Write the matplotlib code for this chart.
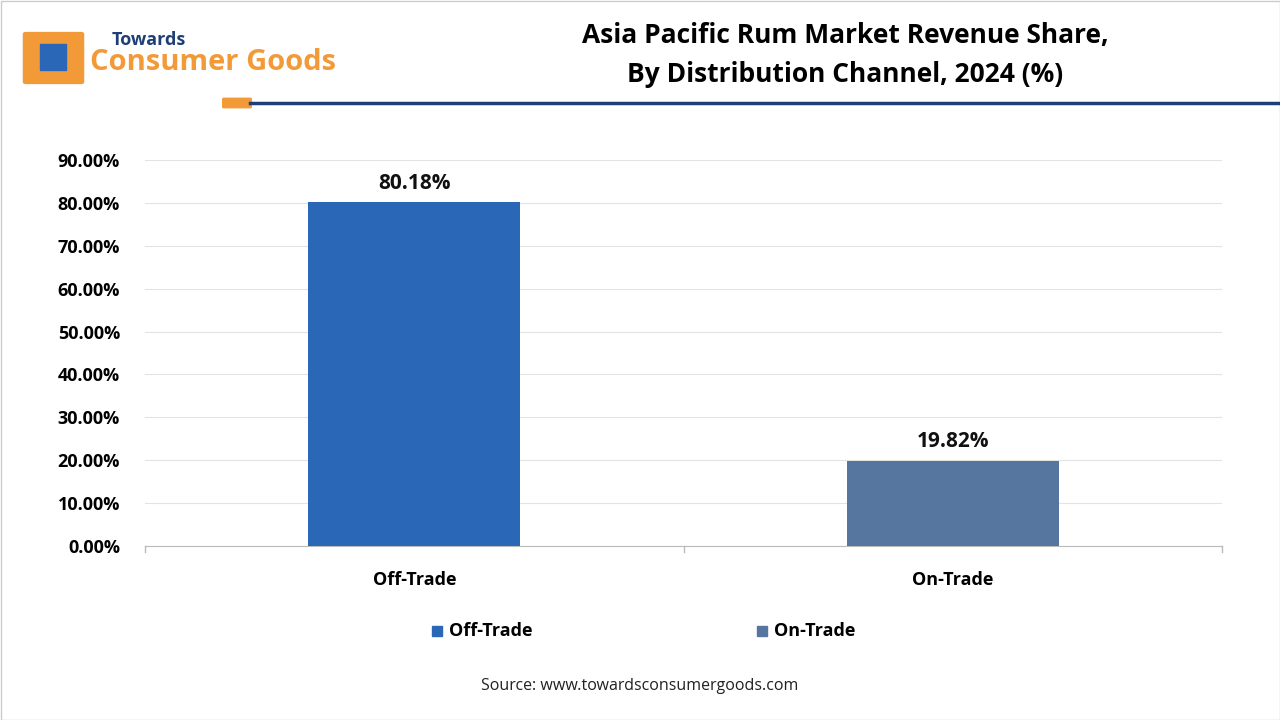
import matplotlib
matplotlib.use("Agg")
import matplotlib.pyplot as plt
from matplotlib.patches import Rectangle, FancyBboxPatch

categories = ["Off-Trade", "On-Trade"]
values = [80.18, 19.82]
colors = ["#2B67B7", "#5676A0"]
yticks = [0, 10, 20, 30, 40, 50, 60, 70, 80, 90]

plt.rcParams["font.family"] = "Open Sans"
fig = plt.figure(figsize=(12.8, 7.2), dpi=100)
W, H = 1280, 720
ax = fig.add_axes([145/W, 1-546/H, (1222-145)/W, (546-160)/H])

x = range(len(categories))
bars = ax.bar(x, values, width=0.394, color=colors, zorder=3)
for b, v in zip(bars, values):
    ax.text(b.get_x()+b.get_width()/2, v+2.0, f"{v:.2f}%", ha="center", va="bottom",
            fontsize=15, fontweight="bold", color="#111111")
ax.set_xlim(-0.5, 1.5)
ax.set_ylim(0, 90)
ax.set_yticks(yticks)
ax.set_yticklabels([f"{t:.2f}%" for t in yticks], fontsize=13, fontweight="bold")
ax.set_xticks(list(x))
ax.set_xticklabels(categories, fontsize=13, fontweight="bold")
ax.grid(axis="y", color="#E3E3E3", linewidth=0.8, zorder=0)
for s in ["top", "right", "left"]:
    ax.spines[s].set_visible(False)
ax.spines["bottom"].set_color("#BBBBBB")
ax.tick_params(axis="y", length=0, pad=18)
ax.tick_params(axis="x", length=0, pad=18)
for xb in [-0.5, 0.5, 1.5]:
    ax.plot([xb, xb], [0, -1.3], color="#BBBBBB", lw=1, clip_on=False)

# legend
for i, (c, col) in enumerate(zip(categories, colors)):
    lx = [432, 757][i]
    fig.patches.append(Rectangle((lx/W, 1-636/H), 10/W, 10/H, transform=fig.transFigure,
                                 color=col))
    fig.text((lx+17)/W, 1-631/H, c, fontsize=13, fontweight="bold", va="center")

fig.text(640/W, 1-686/H, "Source: www.towardsconsumergoods.com", ha="center",
         va="center", fontsize=11.5, color="#222222")

# title
fig.text(845/W, 1-35/H, "Asia Pacific Rum Market Revenue Share,", ha="center",
         va="center", fontsize=19, fontweight="bold")
fig.text(845/W, 1-75/H, "By Distribution Channel, 2024 (%)", ha="center",
         va="center", fontsize=19, fontweight="bold")

# header line
fig.add_artist(plt.Line2D([250/W, 1], [1-103/H, 1-103/H], color="#1F3E75", lw=2.5))
fig.patches.append(FancyBboxPatch((224/W, 1-107/H), 26/W, 8/H, boxstyle="round,pad=0.001",
                                  transform=fig.transFigure, color="#F29A38"))

# logo
fig.patches.append(FancyBboxPatch((26/W, 1-82/H), 55/W, 48/H, boxstyle="round,pad=0.002",
                                  transform=fig.transFigure, color="#F29A38"))
fig.patches.append(Rectangle((40/W, 1-70/H), 26/W, 26/H, transform=fig.transFigure,
                             color="#2B67B7"))
fig.text(112/W, 1-40/H, "Towards", fontsize=13, fontweight="bold", color="#1F3E75",
         va="center")
fig.text(90/W, 1-62/H, "Consumer Goods", fontsize=21, fontweight="bold", color="#F29A38",
         va="center")

# border
fig.patches.append(Rectangle((0.5/W, 0.5/H), 1-1/W, 1-1/H, transform=fig.transFigure,
                             fill=False, edgecolor="#CCCCCC", lw=1))
fig.savefig("out.png", dpi=100)
